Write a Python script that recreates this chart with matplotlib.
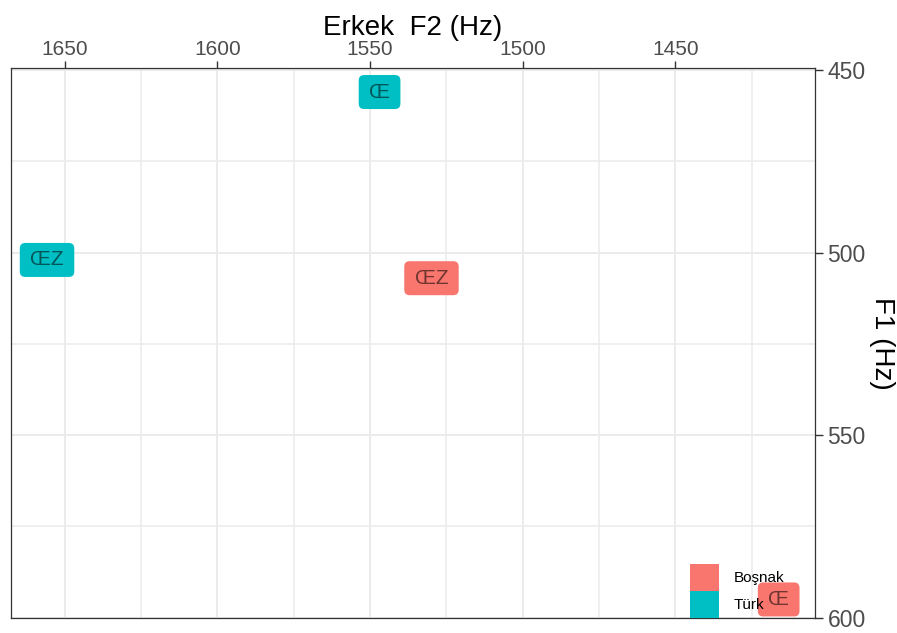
import matplotlib
matplotlib.use('Agg')
import matplotlib.pyplot as plt
from matplotlib.patches import BoxStyle, Patch

plt.rcParams['font.family'] = ['Liberation Sans', 'DejaVu Sans']

# ---- data ----
groups = ['Boşnak', 'Boşnak', 'Türk', 'Türk']
vowels = ['ŒZ', 'Œ', 'ŒZ', 'Œ']
f2_values = [1529.9, 1416.2, 1655.8, 1546.9]
f1_values = [507.0, 595.0, 502.0, 456.0]
legend_groups = ['Boşnak', 'Türk']
group_colors = ['#F8766D', '#00BFC4']
x_major = [1650, 1600, 1550, 1500, 1450]
x_minor = [1625, 1575, 1525, 1475, 1425]
y_major = [450, 500, 550, 600]
y_minor = [475, 525, 575]
x_title = 'Erkek  F2 (Hz)'
y_title = 'F1 (Hz)'

color_of = dict(zip(legend_groups, group_colors))


def label_box(x0, y0, width, height, mutation_size):
    padx = 0.5 * mutation_size
    pady = 0.36 * mutation_size
    return BoxStyle.Round(pad=0, rounding_size=0.26)(
        x0 - padx, y0 - pady, width + 2 * padx, height + 2 * pady, mutation_size)


fig = plt.figure(figsize=(8.97, 6.33), dpi=100)
ax = fig.add_axes([11 / 897, 1 - 617.7 / 633, 804 / 897, (617.7 - 68.3) / 633])

ax.set_xlim(1667.6, 1404.3)
ax.set_ylim(600, 449.5)

ax.set_xticks(x_major)
ax.set_xticks(x_minor, minor=True)
ax.set_yticks(y_major)
ax.set_yticks(y_minor, minor=True)

ax.grid(True, which='major', color='#EBEBEB', linewidth=1.4)
ax.grid(True, which='minor', color='#EBEBEB', linewidth=1.1)
ax.set_axisbelow(True)

ax.xaxis.tick_top()
ax.xaxis.set_label_position('top')
ax.yaxis.tick_right()
ax.yaxis.set_label_position('right')

ax.tick_params(axis='x', which='major', top=True, bottom=False, labeltop=True,
               labelbottom=False, length=5, width=1.0, color='#333333', pad=1.5,
               labelsize=15, labelcolor='#4D4D4D')
ax.tick_params(axis='y', which='major', right=True, left=False, labelright=True,
               labelleft=False, length=5.8, width=1.0, color='#333333', pad=3.2,
               labelsize=16.5, labelcolor='#4D4D4D')
ax.tick_params(which='minor', length=0)

for s in ax.spines.values():
    s.set_color('#333333')
    s.set_linewidth(0.9)

ax.set_xlabel(x_title, fontsize=20, labelpad=4, color='black')
ax.set_ylabel(y_title, fontsize=20, labelpad=2, rotation=-90, va='bottom', color='black')

for g, v, x, y in zip(groups, vowels, f2_values, f1_values):
    ax.text(x, y, v, ha='center', va='center', fontsize=15, color=(0, 0, 0, 0.55),
            zorder=3, clip_on=False,
            bbox=dict(boxstyle=label_box, facecolor=color_of[g], edgecolor='none', linewidth=0))

handles = [Patch(facecolor=color_of[g], edgecolor='none') for g in legend_groups]
ax.legend(handles, legend_groups, loc='lower left', bbox_to_anchor=(0.8445, 0.0),
          frameon=False, borderpad=0, borderaxespad=0, fontsize=11,
          handlelength=1.9, handleheight=2.34, labelspacing=0, handletextpad=0.98)

fig.savefig('out.png', dpi=100)
